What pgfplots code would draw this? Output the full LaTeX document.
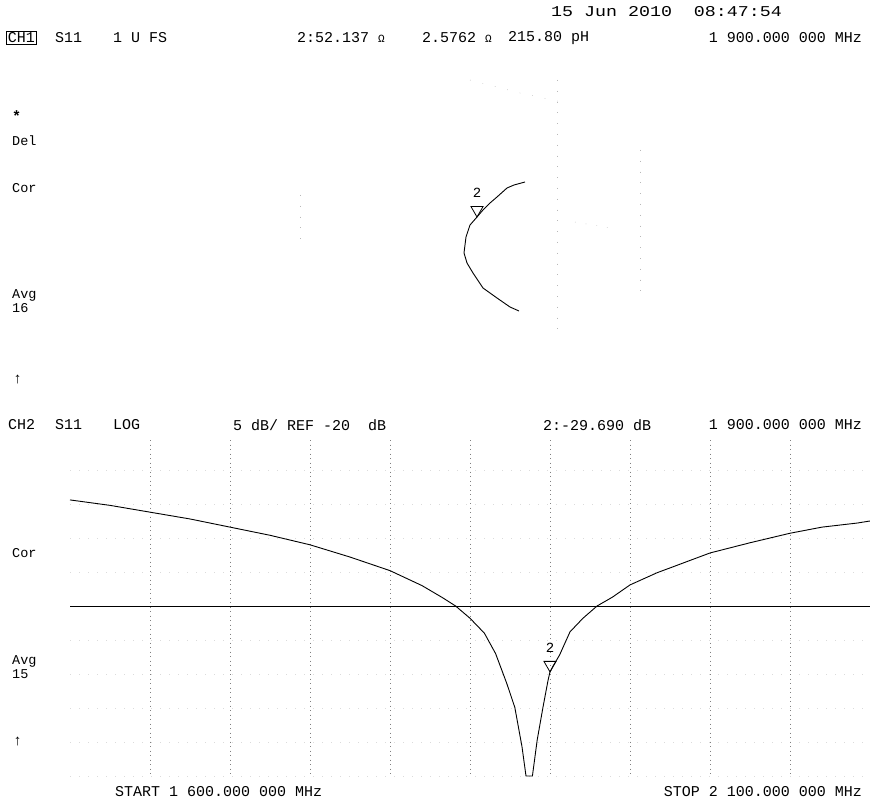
\documentclass[border=0pt]{standalone}
\usepackage{pgfplots}
\pgfplotsset{compat=1.18}
\usepackage{fontspec}
\setmainfont{Liberation Mono}
\setmonofont{Liberation Mono}
\newfontfamily\widefont{Liberation Mono}[FakeStretch=1.22]
\newcommand{\tf}{\fontsize{15}{15}\selectfont}
\newcommand{\smf}{\fontsize{14}{14}\selectfont}
\newcommand{\lbf}{\fontsize{13.5}{13.5}\selectfont}
\newcommand{\ohm}{{\fontsize{11}{11}\selectfont Ω}}
\begin{document}
\begin{tikzpicture}[every node/.style={font=\tf, inner sep=0pt, text=black}]
\begin{axis}[width=870pt, height=805pt, scale only axis,
  xmin=0, xmax=870, ymin=0, ymax=805, y dir=reverse, hide axis, clip=false]
  \coordinate (BL) at (axis cs:0,805);
  \coordinate (TR) at (axis cs:870,0);
  \fill[white] (axis cs:0,0) rectangle (axis cs:870,805);

  % ---------------- header texts ----------------
  \node[anchor=west, font=\widefont\tf] at (axis cs:551,12) {15 Jun 2010\ \ 08:47:54};
  \node[anchor=west, draw, line width=0.8pt, inner sep=1.5pt] at (axis cs:6,38) {CH1};
  \node[anchor=west] at (axis cs:55,38) {S11};
  \node[anchor=west] at (axis cs:113,38) {1 U FS};
  \node[anchor=west] at (axis cs:297,38) {2:52.137 \ohm};
  \node[anchor=west] at (axis cs:422,38) {2.5762 \ohm};
  \node[anchor=west] at (axis cs:508,38) {215.80 pH};
  \node[anchor=east] at (axis cs:862,38) {1 900.000 000 MHz};

  \node[anchor=west] at (axis cs:8,425) {CH2};
  \node[anchor=west] at (axis cs:55,425) {S11};
  \node[anchor=west] at (axis cs:113,425) {LOG};
  \node[anchor=west] at (axis cs:233,425) {5 dB/ REF -20\ \ dB};
  \node[anchor=west] at (axis cs:543,425) {2:-29.690 dB};
  \node[anchor=east] at (axis cs:862,425) {1 900.000 000 MHz};

  \node[anchor=west] at (axis cs:115,792) {START 1 600.000 000 MHz};
  \node[anchor=east] at (axis cs:862,792) {STOP 2 100.000 000 MHz};

  % ---------------- left annotations ----------------
  \node[anchor=west] at (axis cs:12,116) {\textbf{*}};
  \node[anchor=west, font=\lbf] at (axis cs:12,141) {Del};
  \node[anchor=west, font=\lbf] at (axis cs:12,188) {Cor};
  \node[anchor=west, font=\lbf] at (axis cs:12,295) {Avg};
  \node[anchor=west, font=\lbf] at (axis cs:12,308) {16};
  \node[anchor=west] at (axis cs:13,380) {↑};
  \node[anchor=west, font=\lbf] at (axis cs:12,553) {Cor};
  \node[anchor=west, font=\lbf] at (axis cs:12,661) {Avg};
  \node[anchor=west, font=\lbf] at (axis cs:12,674) {15};
  \node[anchor=west] at (axis cs:13,742) {↑};

  % ---------------- CH1: Smith chart (faint graticule remnants + trace) ----------------
  \addplot[black!28, dash pattern=on 0.8pt off 10pt] coordinates {(557,80) (557,330)};
  \addplot[black!28, dash pattern=on 0.8pt off 10pt] coordinates {(300,195) (300,245)};
  \addplot[black!28, dash pattern=on 0.8pt off 10pt] coordinates {(640,150) (640,300)};
  \addplot[black!28, dash pattern=on 0.8pt off 12pt] coordinates {(470,80) (520,93) (562,102)};
  \addplot[black!28, dash pattern=on 0.8pt off 10pt] coordinates {(575,222) (610,228)};
  \addplot[black, line width=0.9pt] coordinates {
    (525,182) (514,185) (507,188) (497,197) (490,203) (483,210) (477,217)
    (470,225) (466,237) (464,253) (467,263) (473,273) (483,288) (497,298)
    (510,307) (519,311)};
  \addplot[only marks, mark=triangle, mark size=7pt,
    mark options={black, line width=0.8pt, yshift=7pt, rotate=180},
    nodes near coords={2},
    every node near coord/.append style={yshift=12pt, anchor=south, font=\smf}]
    coordinates {(477,217)};

  % ---------------- CH2: log magnitude graticule (1600-2100 MHz, 5 dB/div, ref -20 dB at 606) ----------------
  \pgfplotsinvokeforeach{470,504,538,572,640,674,708,742,776}{
    \addplot[black!14, dash pattern=on 1pt off 8pt] coordinates {(70,#1) (870,#1)};
  }
  \pgfplotsinvokeforeach{150,230,310,390,470,550,630,710,790,870}{
    \addplot[black!50, dash pattern=on 1pt off 3.5pt] coordinates {(#1,440) (#1,776)};
  }
  \addplot[black, line width=1pt] coordinates {(70,606) (870,606)};
  \addplot[black, line width=0.9pt] table[x expr={70+(\thisrow{f}-1600)*1.6}, y expr={606-(\thisrow{dB}+20)*6.8}] {
    f dB
    1600 -4.4
    1625 -5.2
    1650 -6.2
    1675 -7.2
    1700 -8.4
    1725 -9.6
    1750 -11.0
    1775 -12.8
    1800 -14.8
    1820 -17.0
    1833 -18.8
    1841 -20.0
    1850 -21.8
    1859 -24.0
    1866 -27.0
    1873 -31.4
    1878 -34.9
    1882.5 -40.7
    1885 -45
    1889 -45
    1892 -39.7
    1895.6 -34.9
    1898.8 -30.9
    1900 -29.69
    1902 -28.8
    1906 -27.2
    1912.5 -23.8
    1920.6 -21.8
    1929.4 -20.0
    1939 -18.7
    1950 -16.9
    1967 -15.1
    1975 -14.4
    2000 -12.2
    2025 -10.7
    2050 -9.3
    2070 -8.4
    2092 -7.8
    2100 -7.5
  };
  \addplot[only marks, mark=triangle, mark size=7pt,
    mark options={black, line width=0.8pt, yshift=7pt, rotate=180},
    nodes near coords={2},
    every node near coord/.append style={yshift=12pt, anchor=south, font=\smf}]
    table[x expr={70+(\thisrow{f}-1600)*1.6}, y expr={606-(\thisrow{dB}+20)*6.8}] {
    f dB
    1900 -29.69
  };
\end{axis}
\pgfresetboundingbox
\path[use as bounding box] (BL) rectangle (TR);
\end{tikzpicture}
\end{document}
